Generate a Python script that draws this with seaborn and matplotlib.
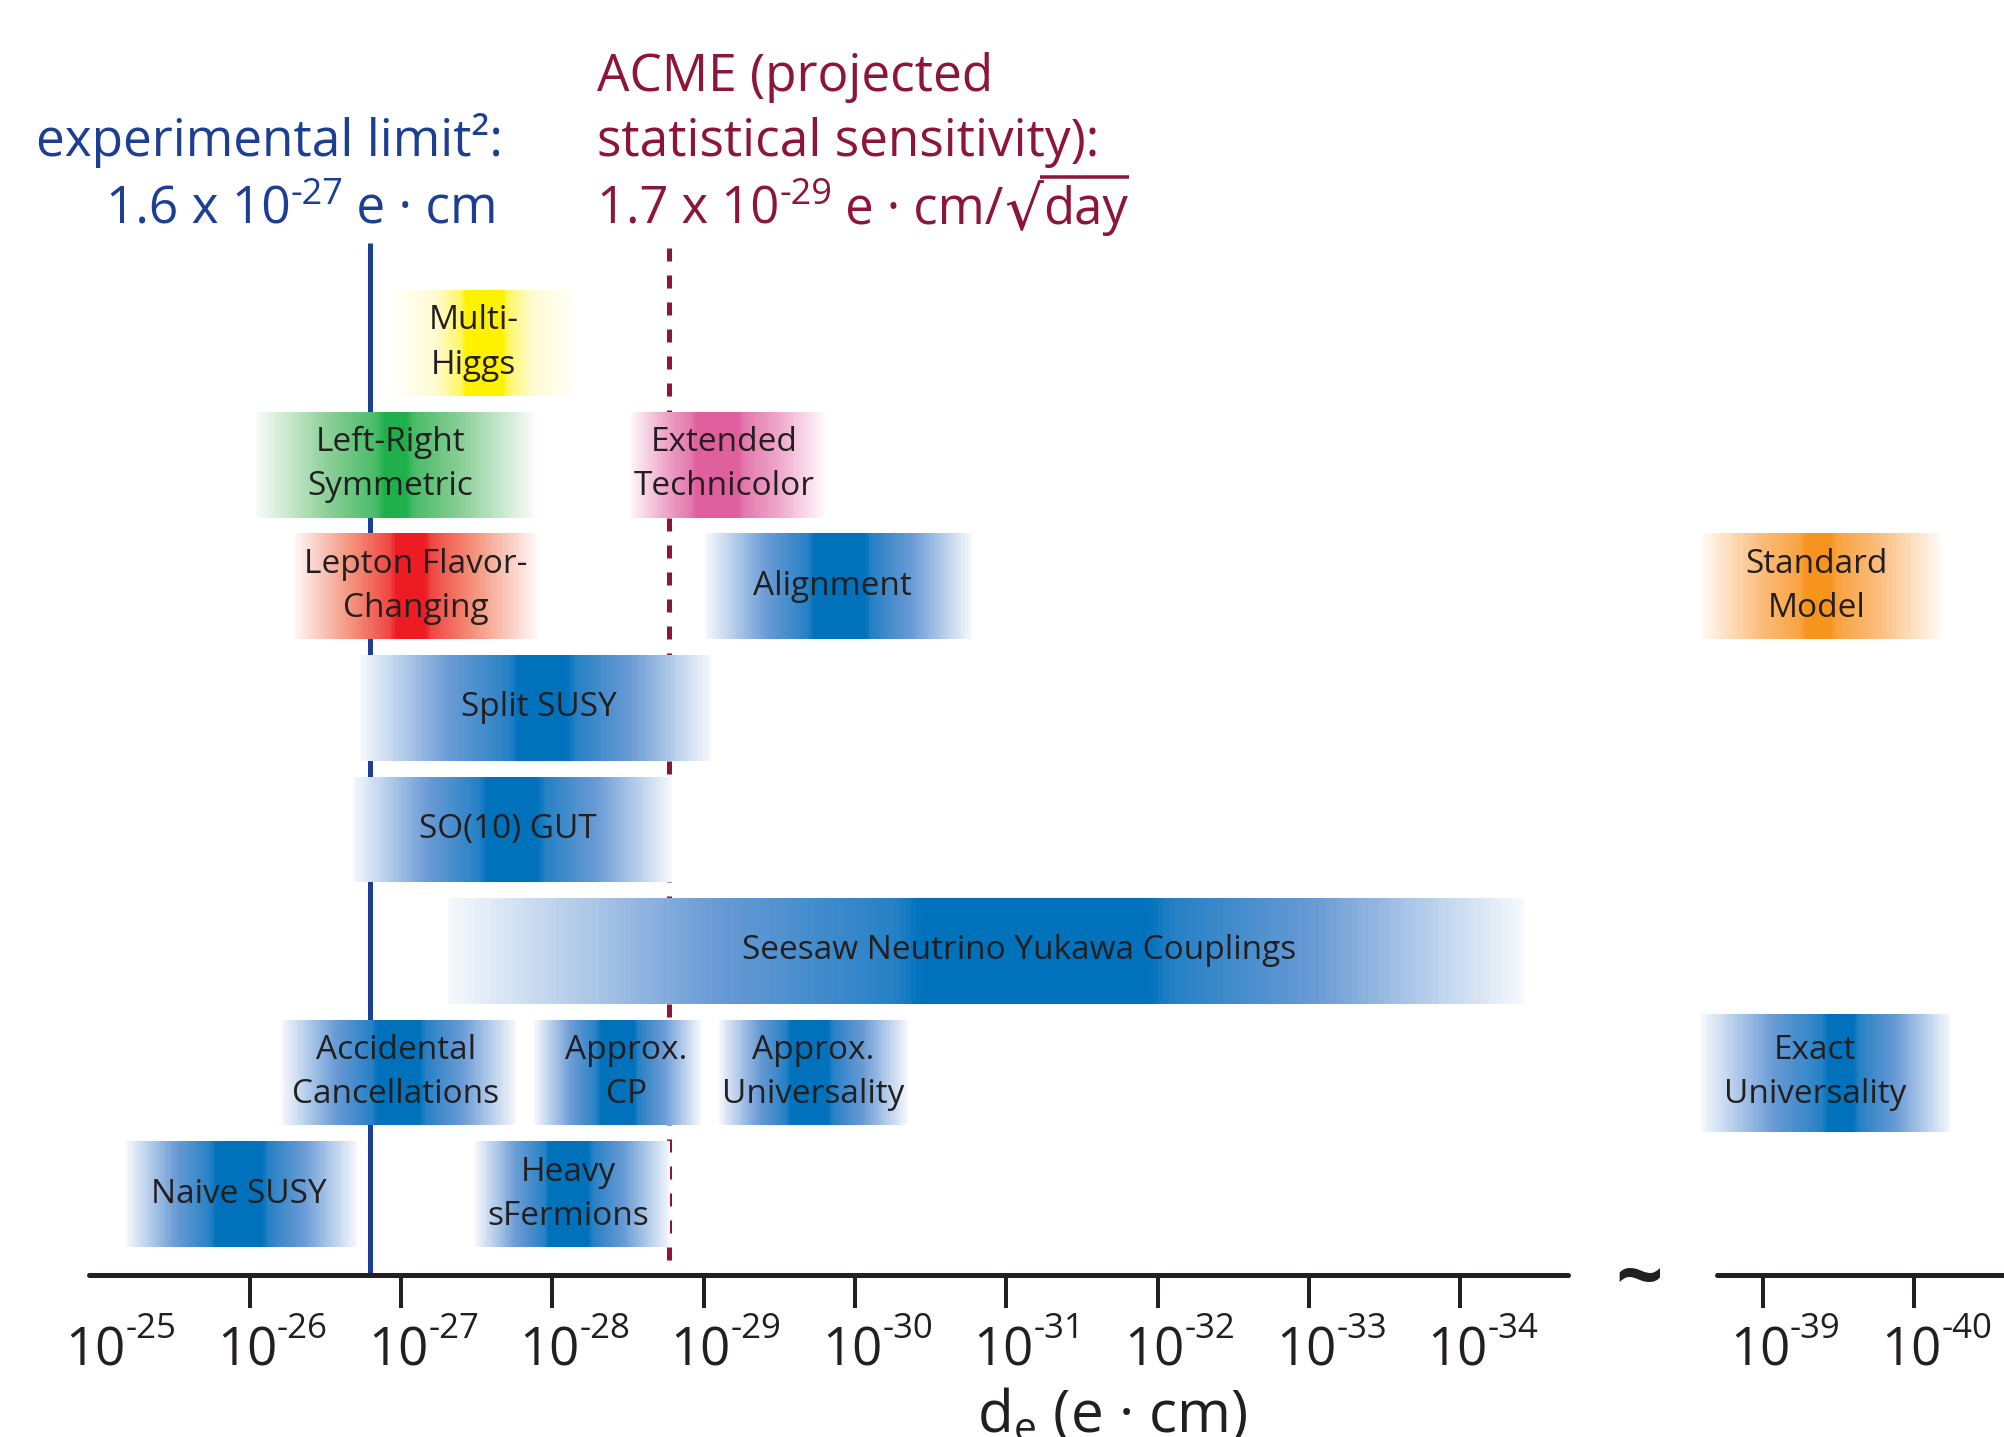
import numpy as np
import matplotlib
matplotlib.use("Agg")
import matplotlib.pyplot as plt
from matplotlib.lines import Line2D
import seaborn as sns

# ---------------------------------------------------------------------------
# Data: theory predictions for the electron EDM, as ranges of the exponent
# n in d_e = 10^-n e*cm
# ---------------------------------------------------------------------------
models = ["Multi-\nHiggs", "Left-Right\nSymmetric", "Extended\nTechnicolor",
          "Lepton Flavor-\nChanging", "Alignment", "Standard\nModel",
          "Split SUSY", "SO(10) GUT", "Seesaw Neutrino Yukawa Couplings",
          "Accidental\nCancellations", "Approx.\nCP", "Approx.\nUniversality",
          "Exact\nUniversality", "Naive SUSY", "Heavy\nsFermions"]
row = [0, 1, 1, 2, 2, 2, 3, 4, 5, 6, 6, 6, 6, 7, 7]
exp_low = [26.93, 26.04, 28.51, 26.29, 29.01, 38.59, 26.73, 26.68, 27.31,
           26.21, 27.88, 29.10, 38.59, 25.18, 27.49]
exp_high = [28.17, 27.88, 29.80, 27.90, 30.77, 40.18, 29.05, 28.79, 34.42,
            27.76, 28.98, 30.35, 40.24, 26.71, 28.78]
family = ["yellow", "green", "pink", "red", "blue", "orange", "blue", "blue",
          "blue", "blue", "blue", "blue", "blue", "blue", "blue"]

experimental_limit = 1.6e-27      # e*cm
acme_sensitivity = 1.7e-29        # e*cm / sqrt(day)

tick_exponents = [25, 26, 27, 28, 29, 30, 31, 32, 33, 34, 39, 40]

# ---------------------------------------------------------------------------
# Styling
# ---------------------------------------------------------------------------
# where the dark core of each gradient sits (fraction of bar width) and its half width
core_center = [0.50, 0.50, 0.45, 0.48, 0.505, 0.49, 0.52, 0.50, 0.545,
               0.50, 0.50, 0.48, 0.56, 0.49, 0.48]
core_half = [0.10, 0.04, 0.11, 0.06, 0.095, 0.05, 0.07, 0.08, 0.105,
             0.09, 0.10, 0.10, 0.05, 0.10, 0.10]
label_shift = [-0.07, -0.03, -0.02, 0, -0.04, -0.03, 0.02, -0.03, 0.22,
               -0.02, 0.06, 0, -0.07, -0.02, -0.03]
bar_height = [0.87] * 15
bar_height[12] = 0.97

# (mid tone, core tone, how far the outer ramp climbs toward the core)
shades = {
    "blue": ("#6a9bd5", "#0072bc", 0.82),
    "yellow": ("#fffbd2", "#fff200", 0.76),
    "green": ("#8dcf98", "#1fb04b", 0.82),
    "pink": ("#eda4c8", "#e0609e", 0.82),
    "red": ("#f4937c", "#ed1c24", 0.82),
    "orange": ("#fbbd7c", "#f7941d", 0.82),
}

sns.set_theme(style="white")
plt.rcParams["font.family"] = ["Open Sans", "DejaVu Sans"]
plt.rcParams["mathtext.fontset"] = "custom"
plt.rcParams["mathtext.rm"] = "Open Sans"
plt.rcParams["mathtext.it"] = "Open Sans:italic"
plt.rcParams["mathtext.bf"] = "Open Sans:bold"
plt.rcParams["mathtext.sf"] = "Open Sans"
plt.rcParams["mathtext.default"] = "regular"

W, H = 2004, 1437
PX = 0.72  # points per pixel at dpi 100
INK = "#231f20"
BLUE_TXT = "#1c3f94"
ACME = "#8c1539"


def fwd(e):
    e = np.asarray(e, dtype=float)
    return np.where(e <= 34.75, e,
                    np.where(e < 38.5, 34.75 + (e - 34.75) * 0.2, e - 3.0))


def inv(p):
    p = np.asarray(p, dtype=float)
    return np.where(p <= 34.75, p,
                    np.where(p < 35.5, 34.75 + (p - 34.75) / 0.2, p + 3.0))


fig = plt.figure(figsize=(W / 100, H / 100), dpi=100)
ax = fig.add_axes([0, 0, 1, 1])
ax.set_xscale("function", functions=(fwd, inv))
ax.set_xlim(24.349, 40.594)
ax.set_ylim(8.997, -2.821)
ax.set_facecolor("white")
renderer = fig.canvas.get_renderer()

axis_y = 7.664


def intensity(t, c, w, s1):
    lo, hi = c - w, c + w
    s0, blend = 0.03, 0.025
    out = np.ones_like(t)
    left = t < lo - blend
    right = t > hi + blend
    out[left] = s0 + (s1 - s0) * (t[left] / (lo - blend))
    out[right] = s0 + (s1 - s0) * ((1 - t[right]) / (1 - hi - blend))
    ml = (t >= lo - blend) & (t < lo)
    out[ml] = s1 + (1 - s1) * (t[ml] - (lo - blend)) / blend
    mr = (t > hi) & (t <= hi + blend)
    out[mr] = 1 - (1 - s1) * (t[mr] - hi) / blend
    return out


# gradient bars, drawn as many thin slices
n_slices = 200
for i in range(len(models)):
    mid, core, reach = shades[family[i]]
    cmap = sns.blend_palette(["#ffffff", mid, core], as_cmap=True)
    edges = np.linspace(exp_low[i], exp_high[i], n_slices + 1)
    t_mid = (np.arange(n_slices) + 0.5) / n_slices
    cols = cmap(intensity(t_mid, core_center[i], core_half[i], reach))
    ax.barh(np.full(n_slices, row[i]), np.diff(edges), left=edges[:-1],
            height=bar_height[i], color=cols, linewidth=0,
            antialiased=False, zorder=2)
    xc = 0.5 * (exp_low[i] + exp_high[i]) + label_shift[i]
    ax.text(xc, row[i], models[i], ha="center", va="center",
            multialignment="center", fontsize=24, color=INK,
            linespacing=1.45, zorder=3)

# experimental limit and ACME sensitivity
x_lim = -np.log10(experimental_limit)
x_acme = -np.log10(acme_sensitivity)
ax.vlines(x_lim, -0.822, axis_y, color="#1c3f95", lw=5 * PX, zorder=1)
ax.vlines(x_acme, -0.78, axis_y, color=ACME, lw=5 * PX,
          linestyles=[(0, (2.6, 2.8))], zorder=1)

# broken horizontal axis
for side in ["top", "left", "right"]:
    ax.spines[side].set_visible(False)
sp = ax.spines["bottom"]
sp.set_position(("data", axis_y))
sp.set_bounds(24.94, 34.71)
sp.set_linewidth(5 * PX)
sp.set_color(INK)
sp.set_capstyle("round")
ax.plot([38.70, 41.5], [axis_y, axis_y], color=INK, lw=5 * PX,
        solid_capstyle="round", zorder=2.5)

ax.set_xticks(tick_exponents)
ax.set_xticklabels([])
ax.tick_params(axis="x", direction="out", length=33 * PX, width=4 * PX,
               color=INK, bottom=True, labelbottom=False)
ax.xaxis.get_major_ticks()[0].tick1line.set_visible(False)
ax.tick_params(axis="y", left=False, labelleft=False)
ax.grid(False)
ax.xaxis.set_minor_locator(matplotlib.ticker.NullLocator())

ax.text(36.9, axis_y + 0.06, "~", ha="center", va="center", fontsize=60,
        fontweight="bold", color=INK)


def chain(x, y, pieces, color, ha="left"):
    """Write text pieces one after the other on a common baseline.

    x, y are pixels from the top-left corner; each piece is
    (text, fontsize, rise in pixels, font family or None)."""
    texts = []
    cur = x
    for s, size, rise, fam in pieces:
        kw = {} if fam is None else {"family": fam}
        t = fig.text(cur / W, 1 - (y - rise) / H, s, fontsize=size,
                     color=color, va="baseline", ha="left", **kw)
        bb = t.get_window_extent(renderer)
        cur = bb.x1
        texts.append(t)
    if ha == "right":
        shift = x - cur
        for t in texts:
            px, py = t.get_position()
            t.set_x(px + shift / W)
        cur = x
    return texts, cur


# tick labels 10^-n with a short hyphen in the exponent
for e in tick_exponents:
    tx, _ = ax.transData.transform((e, axis_y))
    chain(tx - 33, 1365, [("10", 38, 0, None), ("-%d" % e, 25, 27, None)], INK)

# headline annotations
chain(503, 156, [("experimental limit²:", 37, 0, None)], BLUE_TXT, ha="right")
chain(498, 224, [("1.6 x 10", 37, 0, None), ("-27", 26, 20, None),
                 (" e · cm", 37, 0, None)], BLUE_TXT, ha="right")
chain(597, 91, [("ACME (projected", 37, 0, None)], ACME)
chain(597, 156, [("statistical sensitivity):", 37, 0, None)], ACME)
texts, end = chain(597, 224, [("1.7 x 10", 36.5, 0, None), ("-29", 26, 20, None),
                              (" e · cm/", 36.5, 0, None),
                              ("√", 44, -6, "DejaVu Sans")], ACME)
root_end = texts[-1].get_window_extent(renderer).x1
_, day_end = chain(root_end, 224, [("day", 36.5, 0, None)], ACME)
fig.add_artist(Line2D([(root_end - 3) / W, (day_end + 1) / W],
                      [1 - 177 / H, 1 - 177 / H], transform=fig.transFigure,
                      color=ACME, lw=3.5 * PX, solid_capstyle="butt"))

fig.text(1112 / W, 1 - 1432 / H, "d$_{e}$ (e · cm)", ha="center",
         va="baseline", fontsize=42, color=INK)

fig.savefig("out.png", dpi=100, facecolor="white")
